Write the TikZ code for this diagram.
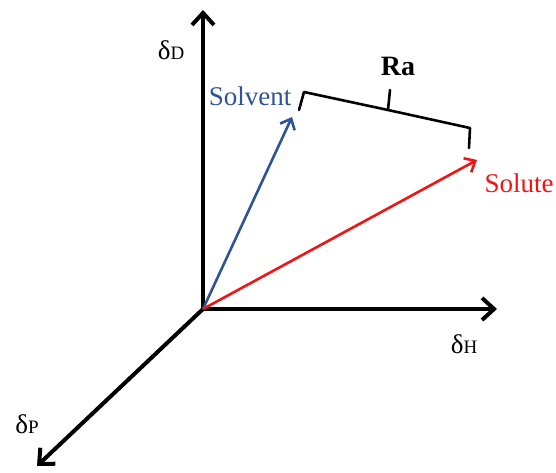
\documentclass[tikz,border=0pt]{standalone}
\usepackage{fontspec}
\setmainfont{Liberation Serif}
\usetikzlibrary{arrows.meta}
\definecolor{solvblue}{RGB}{46,84,150}
\definecolor{solred}{RGB}{240,20,20}
\tikzset{
  axis/.style={line width=4pt, -{Straight Barb[length=12pt,width=22pt,line width=4pt]}},
  vec/.style={line width=2.6pt, -{Straight Barb[length=9pt,width=16pt,line width=2.6pt]}},
  lbl/.style={inner sep=0pt, font=\fontsize{27}{29}\selectfont},
  brace/.style={line width=2.6pt, line join=round, line cap=round}
}
\begin{document}
\begin{tikzpicture}[x=1pt,y=-1pt]
\useasboundingbox (0,0) rectangle (556,472);
\coordinate (O) at (203,309);
\coordinate (D) at (203,10);
\coordinate (H) at (497,309);
\coordinate (P) at (37,466);
\coordinate (Sv) at (292,117);
\coordinate (Su) at (477,160);
\draw[axis] (O) -- (D);
\draw[axis] (O) -- (H);
\draw[axis] (O) -- (P);
\draw[vec, solvblue] (O) -- (Sv);
\draw[vec, solred] (O) -- (Su);
\coordinate (b1) at (299,110);
\coordinate (b2) at (304,92);
\coordinate (bm) at (388,110);
\coordinate (bt) at (390,90);
\coordinate (b3) at (470,128);
\coordinate (b4) at (469,148);
\draw[brace] (b1) -- (b2) -- (bm) -- (b3) -- (b4);
\draw[brace] (bm) -- (bt);
\node[lbl, font=\fontsize{28}{30}\selectfont\bfseries] (ra) at (398,66) {Ra};
\node[lbl, text=solvblue] (svl) at (250,96) {Solvent};
\node[lbl, text=solred] (sul) at (519,183) {Solute};
\node[lbl] (dl) at (171,50) {δ{\fontsize{19}{20}\selectfont D}};
\node[lbl] (hl) at (464,344) {δ{\fontsize{19}{20}\selectfont H}};
\node[lbl] (pl) at (27,424) {δ{\fontsize{19}{20}\selectfont P}};
\end{tikzpicture}
\end{document}
